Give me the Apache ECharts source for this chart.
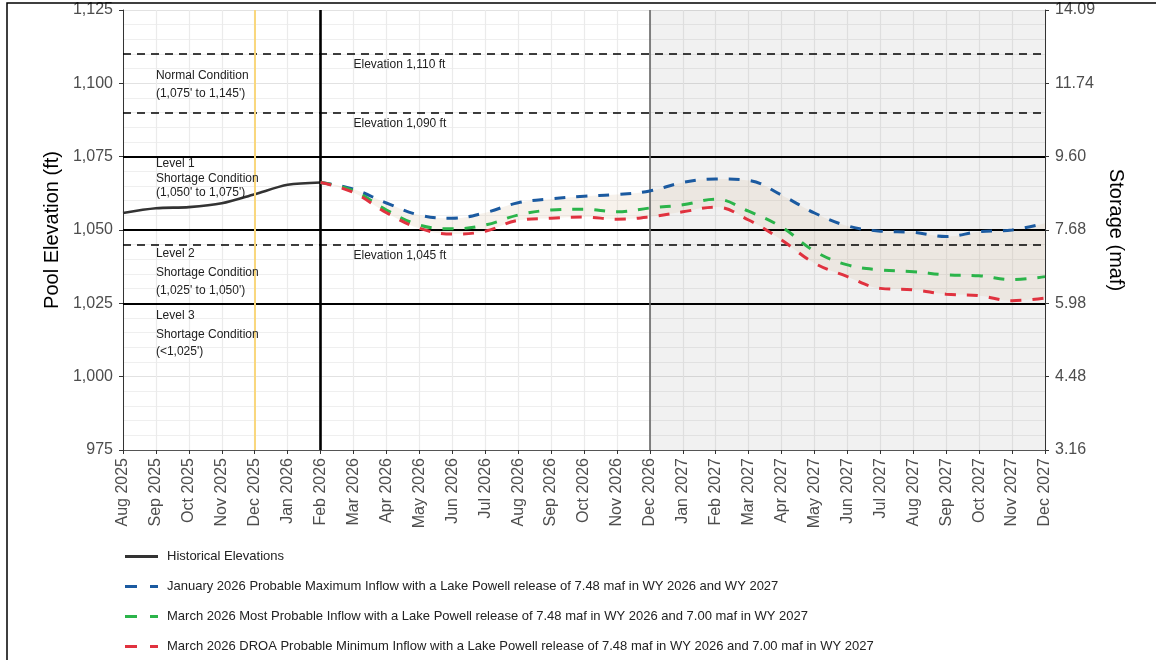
<!DOCTYPE html>
<html>
<head>
<meta charset="utf-8">
<script src="https://cdn.jsdelivr.net/npm/echarts@6/dist/echarts.min.js"></script>
<style>
html,body{margin:0;padding:0;background:#fff;}
#chart{width:1156px;height:660px;}
</style>
</head>
<body>
<div id="chart"></div>
<script>
// months on the x axis
var months = ['Aug 2025','Sep 2025','Oct 2025','Nov 2025','Dec 2025','Jan 2026','Feb 2026','Mar 2026','Apr 2026','May 2026',
	'Jun 2026','Jul 2026','Aug 2026','Sep 2026','Oct 2026','Nov 2026','Dec 2026','Jan 2027','Feb 2027','Mar 2027','Apr 2027',
	'May 2027','Jun 2027','Jul 2027','Aug 2027','Sep 2027','Oct 2027','Nov 2027','Dec 2027'];

// historical elevations (Aug 2025 - Feb 2026)
var historical = [1055.8, 1057.4, 1057.8, 1059.1, 1062.2, 1065.4, 1066.2];

// projections, Feb 2026 - Dec 2027
var maxInflow = [1066.2, 1063.9, 1059.2, 1055.1, 1054.0, 1055.9, 1059.3, 1060.6, 1061.5, 1062.1, 1063.3, 1066.2,
	1067.4, 1066.9, 1061.9, 1055.8, 1051.4, 1049.6, 1049.2, 1047.8, 1049.4, 1050.0, 1052.3];
var mostProbable = [1066.2, 1063.4, 1056.8, 1051.7, 1050.4, 1051.7, 1055.1, 1056.8, 1057.1, 1056.2, 1057.5, 1058.6,
	1060.5, 1056.4, 1051.0, 1042.8, 1038.1, 1036.4, 1035.8, 1034.7, 1034.4, 1033.1, 1034.1];
var minInflow = [1066.2, 1062.8, 1055.9, 1050.6, 1048.6, 1049.6, 1053.3, 1054.0, 1054.4, 1053.7, 1054.5, 1056.2,
	1057.8, 1053.4, 1046.6, 1038.7, 1034.1, 1030.1, 1029.6, 1028.1, 1027.6, 1025.9, 1026.8];

// storage labels for the right axis (975..1125 every 25 ft)
var storageLabels = ['3.16', '4.48', '5.98', '7.68', '9.60', '11.74', '14.09'];

var dashedLevels = [1110, 1090, 1045];
var solidLevels = [1075, 1050, 1025];

var seriesNames = [
	'Historical Elevations',
	'January 2026 Probable Maximum Inflow with a Lake Powell release of 7.48 maf in WY 2026 and WY 2027',
	'March 2026 Most Probable Inflow with a Lake Powell release of 7.48 maf in WY 2026 and 7.00 maf in WY 2027',
	'March 2026 DROA Probable Minimum Inflow with a Lake Powell release of 7.48 maf in WY 2026 and 7.00 maf in WY 2027'
];

var FONT = '"Liberation Sans", Arial, sans-serif';
var startIdx = months.indexOf('Feb 2026');

function pad(arr, start){
	var out = [];
	for(var i=0;i<months.length;i++){
		var j = i - start;
		out.push(j>=0 && j<arr.length ? arr[j] : '-');
	}
	return out;
}

var histData = pad(historical, 0);
var maxData = pad(maxInflow, startIdx);
var mostData = pad(mostProbable, startIdx);
var minData = pad(minInflow, startIdx);
var bandDiff = maxData.map(function(v,i){ return v==='-' ? '-' : +(v - minData[i]).toFixed(2); });

var lineMarks = [];
dashedLevels.forEach(function(v){
	lineMarks.push({yAxis:v, lineStyle:{color:'#000', width:1.7, type:[8,6]}});
});
solidLevels.forEach(function(v){
	lineMarks.push({yAxis:v, lineStyle:{color:'#000', width:1.8, type:'solid'}});
});
lineMarks.push({xAxis:'Dec 2025', lineStyle:{color:'#f9d77e', width:2, type:'solid'}});
lineMarks.push({xAxis:'Feb 2026', lineStyle:{color:'#000', width:2.6, type:'solid'}});
lineMarks.push({xAxis:'Dec 2026', lineStyle:{color:'#666', width:1.6, type:'solid'}});

// legend icons: solid bar and two dashes
var solidIcon = 'path://M0,0H33V3H0Z';
var dashIcon = 'path://M0,0H12V3H0Z M25,0H33V3H25Z';

var myChart = echarts.init(document.getElementById('chart'));

var option = {
	animation:false,
	textStyle:{fontFamily:FONT},
	grid:{left:123, right:111, top:10, bottom:210},
	legend:{
		orient:'vertical',
		left:120, top:545,
		itemWidth:33, itemHeight:3, itemGap:17,
		data:[
			{name:seriesNames[0], icon:solidIcon},
			{name:seriesNames[1], icon:dashIcon},
			{name:seriesNames[2], icon:dashIcon},
			{name:seriesNames[3], icon:dashIcon}
		],
		textStyle:{fontSize:13, color:'#222', fontFamily:FONT, padding:[0,0,0,4]}
	},
	xAxis:{
		type:'category',
		data:months,
		boundaryGap:false,
		axisLine:{lineStyle:{color:'#555', width:1}},
		axisTick:{show:true, length:4, lineStyle:{color:'#333'}},
		axisLabel:{rotate:90, fontSize:16, color:'#4d4d4d', margin:8, interval:0},
		splitLine:{show:true, lineStyle:{color:'#ebebeb', width:1.2}}
	},
	yAxis:[{
		type:'value', min:975, max:1125, interval:25,
		name:'Pool Elevation (ft)', nameLocation:'middle', nameGap:52,
		nameTextStyle:{fontSize:20, color:'#000'},
		axisLine:{show:true, lineStyle:{color:'#333', width:1}},
		axisTick:{show:true, length:4, lineStyle:{color:'#333'}},
		axisLabel:{fontSize:16, color:'#4d4d4d', margin:10, formatter:function(v){ return v.toLocaleString('en-US'); }},
		splitLine:{show:true, lineStyle:{color:'#e2e2e2', width:1.2}},
		minorTick:{show:false, splitNumber:5},
		minorSplitLine:{show:true, lineStyle:{color:'#efefef', width:1}}
	},{
		type:'value', min:975, max:1125, interval:25, position:'right',
		name:'Storage (maf)', nameLocation:'middle', nameGap:55, nameRotate:-90,
		nameTextStyle:{fontSize:20, color:'#000'},
		axisLine:{show:true, lineStyle:{color:'#333', width:1}},
		axisTick:{show:true, length:4, lineStyle:{color:'#333'}},
		axisLabel:{fontSize:16, color:'#4d4d4d', margin:10, formatter:function(v){ return storageLabels[Math.round((v-975)/25)]; }},
		splitLine:{show:false}
	}],
	series:[
		{
			name:'bandBase', type:'line', data:minData, stack:'band', smooth:0.4,
			symbol:'none', lineStyle:{opacity:0}, silent:true, z:1,
			markArea:{silent:true, itemStyle:{color:'rgba(0,0,0,0.055)'},
				data:[[{xAxis:'Dec 2026'},{xAxis:'Dec 2027'}]]}
		},
		{
			name:'bandFill', type:'line', data:bandDiff, stack:'band', smooth:0.4,
			symbol:'none', lineStyle:{opacity:0}, silent:true, z:1,
			areaStyle:{color:'rgba(215,195,165,0.3)'}
		},
		{
			name:seriesNames[0], type:'line', data:histData, smooth:0.3, symbol:'none',
			itemStyle:{color:'#333'}, lineStyle:{color:'#333', width:2.6}, z:4,
			markLine:{silent:true, symbol:'none', label:{show:false}, data:lineMarks}
		},
		{
			name:seriesNames[1], type:'line', data:maxData, smooth:0.4, symbol:'none',
			itemStyle:{color:'#1b5aa0'}, lineStyle:{color:'#1b5aa0', width:3, type:[11,11]}, z:5
		},
		{
			name:seriesNames[2], type:'line', data:mostData, smooth:0.4, symbol:'none',
			itemStyle:{color:'#2bb44a'}, lineStyle:{color:'#2bb44a', width:3, type:[11,11]}, z:5
		},
		{
			name:seriesNames[3], type:'line', data:minData, smooth:0.4, symbol:'none',
			itemStyle:{color:'#e0323f'}, lineStyle:{color:'#e0323f', width:3, type:[11,11]}, z:5
		}
	]
};
myChart.setOption(option);

// text notes, placed through the axes
var notes = [
	['Normal Condition', 'Sep 2025', 1102.8],
	["(1,075' to 1,145')", 'Sep 2025', 1096.8],
	['Level 1', 'Sep 2025', 1072.8],
	['Shortage Condition', 'Sep 2025', 1067.8],
	["(1,050' to 1,075')", 'Sep 2025', 1062.9],
	['Level 2', 'Sep 2025', 1042.1],
	['Shortage Condition', 'Sep 2025', 1035.8],
	["(1,025' to 1,050')", 'Sep 2025', 1029.8],
	['Level 3', 'Sep 2025', 1021.0],
	['Shortage Condition', 'Sep 2025', 1014.8],
	["(<1,025')", 'Sep 2025', 1008.8],
	['Elevation 1,110 ft', 'Mar 2026', 1106.6],
	['Elevation 1,090 ft', 'Mar 2026', 1086.5],
	['Elevation 1,045 ft', 'Mar 2026', 1041.7]
];
var g = [];
notes.forEach(function(n){
	var p = myChart.convertToPixel({xAxisIndex:0, yAxisIndex:0}, [n[1], n[2]]);
	g.push({type:'text', x:p[0], y:p[1] + 1, z:100, silent:true,
		style:{text:n[0], fill:'#222', font:'12px ' + FONT, textAlign:'left', textVerticalAlign:'middle'}});
});
// outer frame
g.push({type:'rect', shape:{x:7, y:3, width:1160, height:680}, z:100, silent:true,
	style:{fill:'none', stroke:'#000', lineWidth:1.5}});
myChart.setOption({graphic:g});
</script>
</body>
</html>
